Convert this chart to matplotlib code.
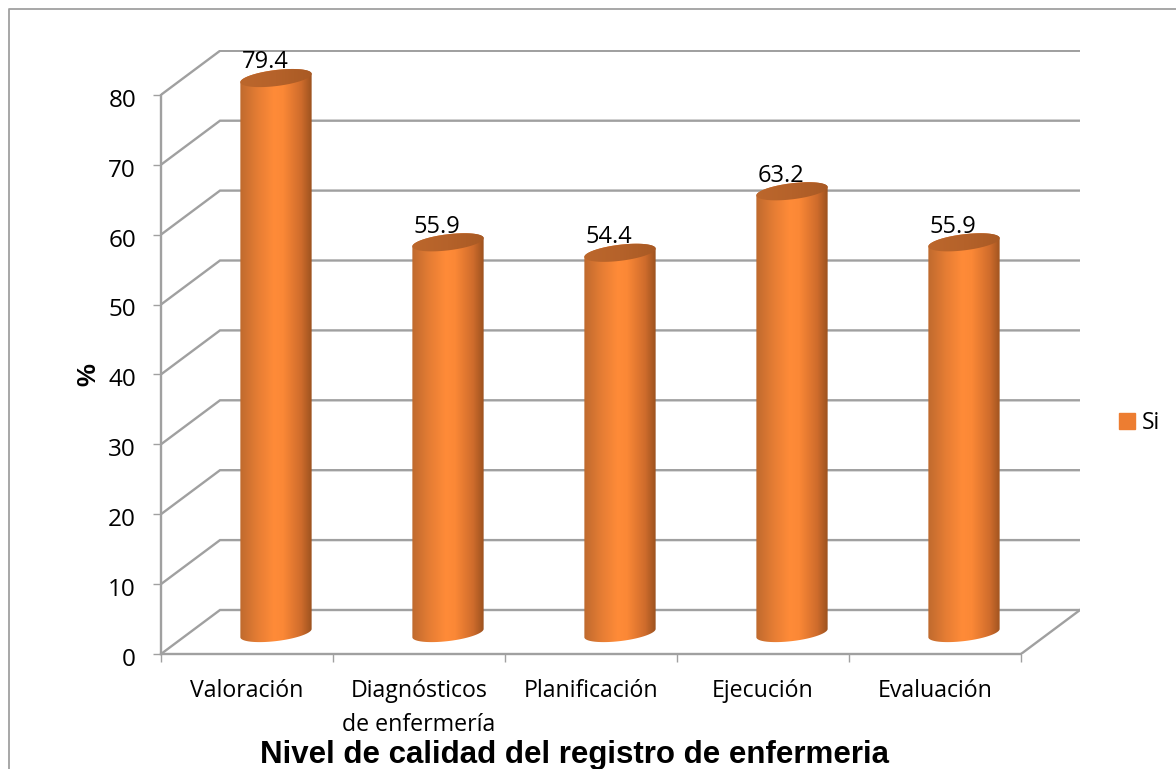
import numpy as np
import matplotlib
matplotlib.use("Agg")
import matplotlib.pyplot as plt
from matplotlib.colors import LinearSegmentedColormap
from matplotlib.lines import Line2D
from matplotlib.patches import Patch, Polygon
from matplotlib.transforms import ScaledTranslation

categories = ["Valoración", "Diagnósticos\nde enfermería", "Planificación", "Ejecución", "Evaluación"]
values = [79.4, 55.9, 54.4, 63.2, 55.9]
y_ticks = [0, 10, 20, 30, 40, 50, 60, 70, 80]
series_name = "Si"

W, H = 1176, 769
PX_X = 172.0  # pixels per category
PX_Y = 6.99   # pixels per percent
DEPTH_X = 59 / PX_X
DEPTH_Y = 44 / PX_Y
GRID = "#A0A0A0"

plt.rcParams["font.family"] = ["Open Sans", "DejaVu Sans"]

fig = plt.figure(figsize=(W / 100, H / 100), dpi=100)
ax = fig.add_axes([161 / W, (H - 654) / H, 919 / W, 604 / H])
ax.patch.set_alpha(0)

# back wall and floor
for v in y_ticks:
    ax.plot([0, DEPTH_X, 5 + DEPTH_X], [v, v + DEPTH_Y, v + DEPTH_Y], color=GRID, lw=1.7, zorder=1,
            solid_joinstyle="miter")
ax.plot([5, 5 + DEPTH_X], [0, DEPTH_Y], color=GRID, lw=1.7, zorder=1)

# cylinders
shade = LinearSegmentedColormap.from_list(
    "cyl", [(0, "#BF6A2E"), (0.25, "#E67D34"), (0.47, "#FF8B38"), (0.6, "#FB8836"),
            (0.85, "#CF6C2C"), (1, "#9C521F")])
gradient = np.linspace(0, 1, 256).reshape(1, -1)
top_shade = LinearSegmentedColormap.from_list("top", ["#BC672C", "#B5622A", "#A95A24"])

a_px, b_px, theta = 35.9, 8.0, np.radians(7)
t = np.linspace(0, 2 * np.pi, 121)
half_w = 36.0 / PX_X

for i, v in enumerate(values):
    cx = i + 0.5 + DEPTH_X / 2 - 0.5 / PX_X
    base = DEPTH_Y / 2 - 0.15
    ex = (a_px * np.cos(t) * np.cos(theta) - b_px * np.sin(t) * np.sin(theta)) / PX_X
    ey = (a_px * np.cos(t) * np.sin(theta) + b_px * np.sin(t) * np.cos(theta)) / PX_Y
    upper = t <= np.pi
    lower = t >= np.pi

    outline = np.vstack([
        np.column_stack([cx + ex[lower], base + ey[lower]]),
        np.column_stack([cx + ex[upper], base + v + ey[upper]]),
    ])
    body = Polygon(outline, closed=True, transform=ax.transData, fc="none", ec="none")
    ax.add_patch(body)
    im = ax.imshow(gradient, cmap=shade, aspect="auto", zorder=3,
                   extent=[cx - half_w, cx + half_w, base - 2, base + v + 2])
    im.set_clip_path(body)

    lid = Polygon(np.column_stack([cx + ex, base + v + ey]), closed=True, fc="none", ec="none")
    ax.add_patch(lid)
    im2 = ax.imshow(gradient, cmap=top_shade, aspect="auto", zorder=4,
                    extent=[cx - half_w, cx + half_w, base + v - 3, base + v + 3])
    im2.set_clip_path(lid)

    ax.text(cx - 11 / PX_X, base + v + 2.25, f"{v:.1f}", ha="center", va="center",
            fontsize=17, color="black", zorder=5)

ax.set_xlim(0, 919 / PX_X)
ax.set_ylim(0, 604 / PX_Y)

# axes
for side in ["top", "right"]:
    ax.spines[side].set_visible(False)
ax.spines["left"].set_bounds(0, 80)
ax.spines["bottom"].set_bounds(0, 5)
for side in ["left", "bottom"]:
    ax.spines[side].set_color(GRID)
    ax.spines[side].set_linewidth(1.7)
    ax.spines[side].set_zorder(2)

ax.set_yticks(y_ticks)
ax.tick_params(axis="y", length=6, width=1, color=GRID, labelsize=17.5, pad=12)
nudge = ScaledTranslation(0, -3 / 100, fig.dpi_scale_trans)
for lab in ax.get_yticklabels():
    lab.set_transform(lab.get_transform() + nudge)
ax.set_xticks(range(6))
ax.set_xticklabels([])
ax.tick_params(axis="x", which="major", length=6, width=1, color=GRID)
ax.set_xticks([i + 0.5 for i in range(5)], minor=True)
ax.set_xticklabels(categories, minor=True, fontsize=16.7, linespacing=1.55, va="top")
ax.tick_params(axis="x", which="minor", length=0, pad=18)

ax.set_ylabel("%", fontsize=18.5, fontweight="bold", family="Liberation Sans", va="center")
ax.yaxis.set_label_coords((88 - 161) / 919, (654 - 375) / 604)

ax.set_xlabel("Nivel de calidad del registro de enfermeria", fontsize=22.5, fontweight="bold",
              family="Liberation Sans", va="baseline", ha="center")
ax.xaxis.set_label_coords((575 - 161) / 919, (654 - 763) / 604)

fig.legend(handles=[Patch(color="#ED7D31", label=series_name)], loc="center left",
           bbox_to_anchor=(1119 / W, (H - 423) / H), frameon=False, fontsize=16.5,
           handlelength=0.68, handleheight=0.68, handletextpad=0.3, borderaxespad=0, borderpad=0)

# chart frame, only top and left are inside the crop
fig.add_artist(Line2D([8.5 / W, 8.5 / W, 1], [0, (H - 9) / H, (H - 9) / H],
                      transform=fig.transFigure, color="#A0A0A0", lw=1.3))

fig.savefig("out.png", dpi=100)
plt.close(fig)
